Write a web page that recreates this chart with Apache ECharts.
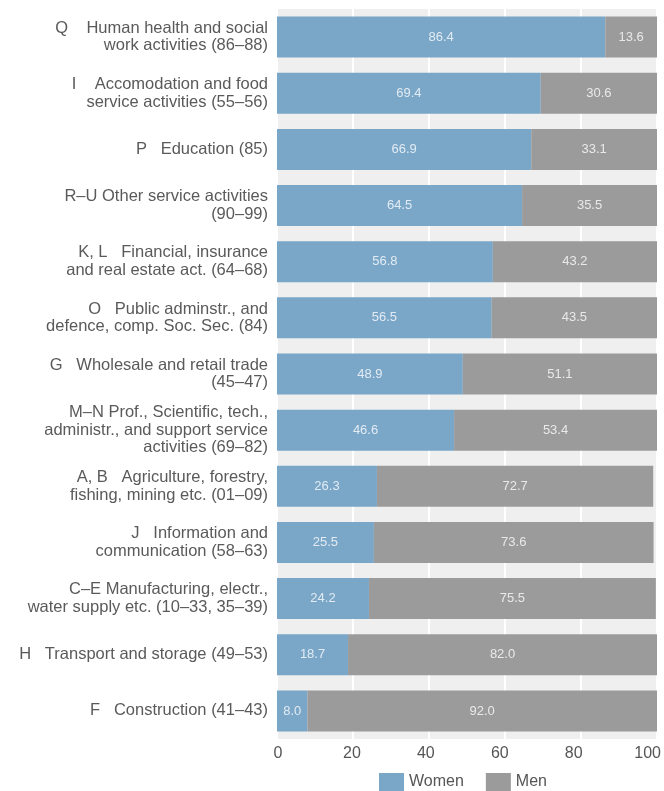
<!DOCTYPE html>
<html><head><meta charset="utf-8">
<script src="https://cdn.jsdelivr.net/npm/echarts@6/dist/echarts.min.js"></script>
<style>html,body{margin:0;padding:0;background:#fff}#c{width:664px;height:791px}</style>
</head><body><div id="c"></div>
<script>
const categories = [
  'Q    Human health and social\nwork activities (86–88)',
  'I    Accomodation and food\nservice activities (55–56)',
  'P   Education (85)',
  'R–U Other service activities\n(90–99)',
  'K, L   Financial, insurance\nand real estate act. (64–68)',
  'O   Public adminstr., and\ndefence, comp. Soc. Sec. (84)',
  'G   Wholesale and retail trade\n(45–47)',
  'M–N Prof., Scientific, tech.,\nadministr., and support service\nactivities (69–82)',
  'A, B   Agriculture, forestry,\nfishing, mining etc. (01–09)',
  'J   Information and\ncommunication (58–63)',
  'C–E Manufacturing, electr.,\nwater supply etc. (10–33, 35–39)',
  'H   Transport and storage (49–53)',
  'F   Construction (41–43)'
];
const women = [86.4, 69.4, 66.9, 64.5, 56.8, 56.5, 48.9, 46.6, 26.3, 25.5, 24.2, 18.7, 8.0];
const men = [13.6, 30.6, 33.1, 35.5, 43.2, 43.5, 51.1, 53.4, 72.7, 73.6, 75.5, 82.0, 92.0];
const xTicks = [0, 20, 40, 60, 80, 100];

const font = '"Liberation Sans", Arial, sans-serif';
const chart = echarts.init(document.getElementById('c'));
const lbl = {
  show: true, position: 'inside', color: 'rgba(255,255,255,0.78)', fontSize: 13, fontFamily: font,
  formatter: p => p.value.toFixed(1)
};
chart.setOption({
  animation: false,
  grid: [
    { left: 277, right: 7, top: 9, bottom: 52, show: true, backgroundColor: '#efefef', borderWidth: 0 },
    { left: 278, right: 16, top: 9, bottom: 52, show: false }
  ],
  legend: {
    left: 379, top: 773, padding: 0, itemWidth: 25, itemHeight: 18, itemGap: 22,
    icon: 'rect',
    textStyle: { fontSize: 16, color: '#555', fontFamily: font },
    data: ['Women', 'Men']
  },
  xAxis: [{
    type: 'value', min: 0, max: 100, interval: 20, gridIndex: 0,
    axisLine: { show: false }, axisTick: { show: false },
    splitLine: { show: true, lineStyle: { color: '#ffffff', width: 2 } },
    axisLabel: { show: false }
  }, {
    type: 'value', min: 0, max: 100, interval: 20, gridIndex: 1,
    axisLine: { show: false }, axisTick: { show: false }, splitLine: { show: false },
    axisLabel: { fontSize: 16, color: '#555', fontFamily: font, margin: 7,
      formatter: v => xTicks.includes(v) ? String(v) : '' }
  }],
  yAxis: [{
    type: 'category', inverse: true, data: categories, gridIndex: 0,
    axisLine: { show: false }, axisTick: { show: false },
    axisLabel: { fontSize: 16.5, color: '#5a5a5a', fontFamily: font, lineHeight: 17.5, align: 'right', margin: 9 }
  }, {
    type: 'category', inverse: true, data: categories, gridIndex: 1, show: false
  }],
  series: [
    { name: 'Women', type: 'bar', stack: 'a', data: women, barWidth: '73%',
      itemStyle: { color: '#7aa6c8' }, label: lbl },
    { name: 'Men', type: 'bar', stack: 'a', data: men, barWidth: '73%',
      itemStyle: { color: '#9b9b9b' }, label: lbl }
  ]
});
</script></body></html>
